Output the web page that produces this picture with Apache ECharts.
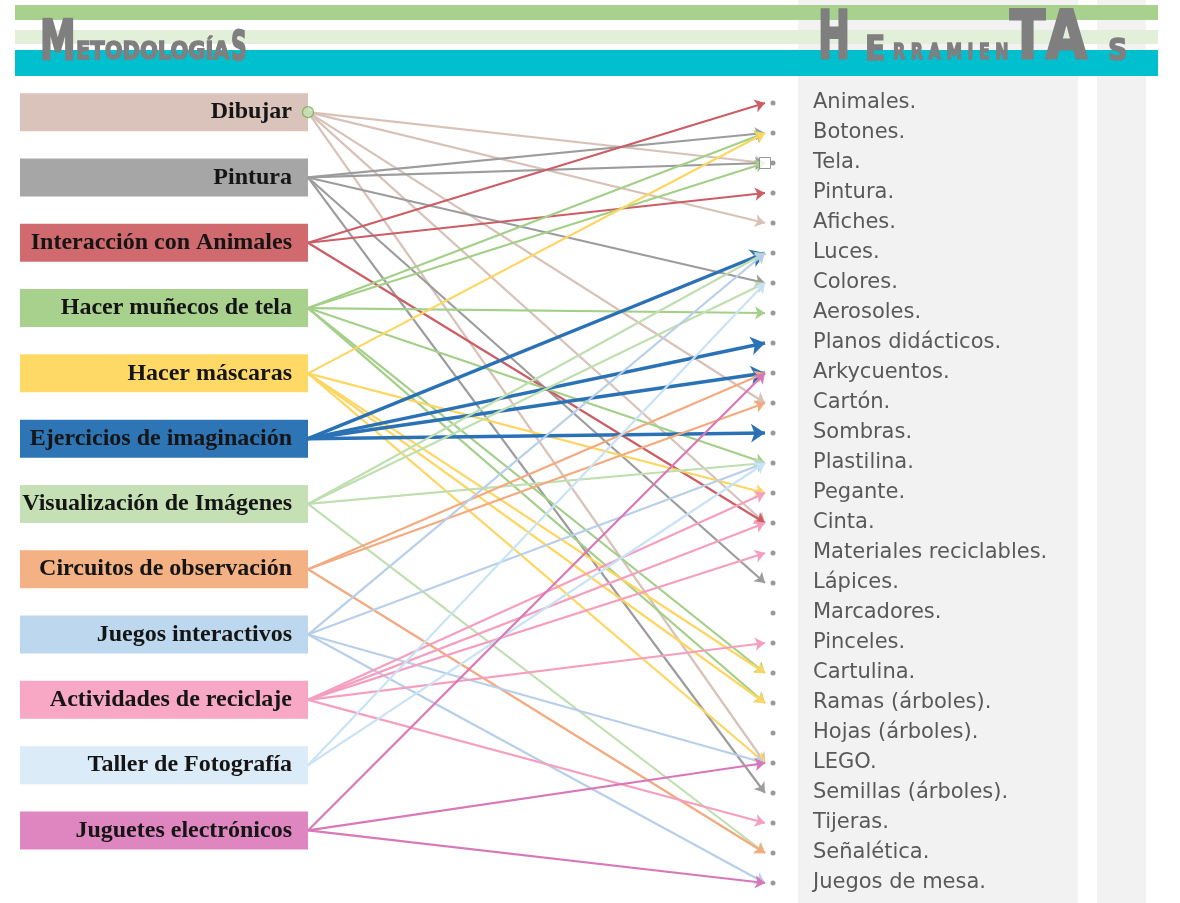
<!DOCTYPE html>
<html>
<head>
<meta charset="utf-8">
<script src="https://cdn.jsdelivr.net/npm/echarts@6/dist/echarts.min.js"></script>
<style>
  html, body { margin: 0; padding: 0; background: #fff; }
  #chart { width: 1180px; height: 903px; }
</style>
</head>
<body>
<div id="chart"></div>
<script>
// methodologies (left boxes)
const methods = [
  "Dibujar", "Pintura", "Interacción con Animales", "Hacer muñecos de tela",
  "Hacer máscaras", "Ejercicios de imaginación", "Visualización de Imágenes",
  "Circuitos de observación", "Juegos interactivos", "Actividades de reciclaje",
  "Taller de Fotografía", "Juguetes electrónicos"
];

// tools (right list)
const tools = [
  "Animales.", "Botones.", "Tela.", "Pintura.", "Afiches.", "Luces.", "Colores.",
  "Aerosoles.", "Planos didácticos.", "Arkycuentos.", "Cartón.", "Sombras.",
  "Plastilina.", "Pegante.", "Cinta.", "Materiales reciclables.", "Lápices.",
  "Marcadores.", "Pinceles.", "Cartulina.", "Ramas (árboles).", "Hojas (árboles).",
  "LEGO.", "Semillas (árboles).", "Tijeras.", "Señalética.", "Juegos de mesa."
];

// which tools each methodology points to
const fromDibujar = ["Tela.", "Afiches.", "Cartón.", "Cinta.", "LEGO."];
const fromPintura = ["Botones.", "Tela.", "Colores.", "Lápices.", "Semillas (árboles)."];
const fromInteraccion = ["Animales.", "Pintura.", "Cinta."];
const fromMunecos = ["Botones.", "Tela.", "Aerosoles.", "Plastilina.", "Cartulina.", "Ramas (árboles)."];
const fromMascaras = ["Botones.", "Pegante.", "Cartulina.", "Ramas (árboles).", "LEGO."];
const fromEjercicios = ["Luces.", "Planos didácticos.", "Arkycuentos.", "Sombras."];
const fromVisualizacion = ["Luces.", "Colores.", "Plastilina.", "Señalética."];
const fromCircuitos = ["Arkycuentos.", "Cartón.", "Señalética."];
const fromJuegos = ["Luces.", "Plastilina.", "LEGO.", "Juegos de mesa."];
const fromReciclaje = ["Pegante.", "Cinta.", "Materiales reciclables.", "Pinceles.", "Tijeras."];
const fromTaller = ["Colores.", "Plastilina."];
const fromJuguetes = ["Arkycuentos.", "LEGO.", "Juegos de mesa."];

const targets = [
  fromDibujar, fromPintura, fromInteraccion, fromMunecos, fromMascaras, fromEjercicios,
  fromVisualizacion, fromCircuitos, fromJuegos, fromReciclaje, fromTaller, fromJuguetes
];

const boxColors = [
  "#d9c3ba", "#a6a6a6", "#d06a6e", "#a9d18e", "#ffd966", "#2e75b6",
  "#c5e0b4", "#f4b183", "#bdd7ee", "#f8a8c4", "#dbecf8", "#df86c1"
];
const lineColors = [
  "#d8c2b8", "#9c9c9c", "#cc5d64", "#a3cf88", "#fdd661", "#2a72b5",
  "#c0dfb0", "#f2aa7e", "#b7cfe9", "#f59fbf", "#c9e3f6", "#d878b8"
];

// layout
const TOOL_TOP = 103, TOOL_STEP = 30;
const LINK_X0 = 308, DOT_X = 773, ARROW_X = 765;
const BOX_LEFT = 20, METH_TOP = 79.5, METH_STEP = 65.3;
const methRow = j => (METH_TOP + (j + 0.5) * METH_STEP - TOOL_TOP) / TOOL_STEP;
const endX = (ARROW_X - LINK_X0) / (DOT_X - LINK_X0);

const linkData = [];
targets.forEach((list, j) => {
  list.forEach(t => {
    const thick = methods[j] === "Ejercicios de imaginación";
    linkData.push({
      coords: [[0, methRow(j)], [endX, tools.indexOf(t)]],
      symbolSize: thick ? 14 : 10,
      lineStyle: { color: lineColors[j], width: thick ? 3.5 : 2.2, opacity: 1 }
    });
  });
});

// heading letters: heavy, horizontally squeezed
const GRAY = "#7f7f7f";
const headText = (x, bottom, text, size, sx) => ({
  type: "text", x: x, y: bottom + 0.18 * size, scaleX: sx, z: 10,
  style: {
    text: text, fill: GRAY, stroke: GRAY, lineWidth: Math.max(1.5, size / 22),
    font: "bold " + size + "px 'DejaVu Sans', sans-serif",
    textVerticalAlign: "bottom"
  }
});

const chart = echarts.init(document.getElementById("chart"));
chart.setOption({
  animation: false,
  backgroundColor: "#fff",
  graphic: [
    { type: "rect", shape: { x: 798, y: 0, width: 280, height: 903 }, style: { fill: "#f2f2f2" }, z: 0 },
    { type: "rect", shape: { x: 1097, y: 0, width: 49, height: 903 }, style: { fill: "#f2f2f2" }, z: 0 },
    { type: "rect", shape: { x: 15, y: 5, width: 1143, height: 15 }, style: { fill: "#a9d18e" }, z: 1 },
    { type: "rect", shape: { x: 15, y: 30, width: 1143, height: 14 }, style: { fill: "#e2efd9" }, z: 1 },
    { type: "rect", shape: { x: 15, y: 50, width: 1143, height: 26 }, style: { fill: "#00bfcf" }, z: 1 },
    headText(40, 62, "M", 55, 0.65),
    headText(76, 60, "ETODOLOGÍA", 25, 0.84),
    headText(231, 62, "S", 40, 0.55),
    headText(818, 62, "H", 66, 0.58),
    headText(865, 62, "E", 33, 0.9),
    headText(893, 60, "R R A M I E N", 22, 0.72),
    headText(1010, 62, "T", 66, 0.78),
    headText(1046, 62, "A", 66, 0.8),
    headText(1108, 62, "S", 30, 0.9)
  ],
  grid: [
    { left: LINK_X0, top: TOOL_TOP, width: DOT_X - LINK_X0, height: TOOL_STEP * (tools.length - 1), outerBoundsMode: "none" },
    { left: BOX_LEFT, top: METH_TOP, width: LINK_X0 - BOX_LEFT, height: METH_STEP * methods.length, outerBoundsMode: "none" }
  ],
  xAxis: [
    { gridIndex: 0, type: "value", min: 0, max: 1, show: false },
    { gridIndex: 1, type: "value", min: 0, max: 1, show: false }
  ],
  yAxis: [
    { gridIndex: 0, type: "value", min: 0, max: tools.length - 1, inverse: true, show: false },
    {
      gridIndex: 0, type: "category", data: tools, inverse: true, boundaryGap: false,
      position: "right",
      axisLine: { show: false }, axisTick: { show: false }, splitLine: { show: false },
      axisLabel: {
        margin: 40, align: "left", color: "#595959",
        fontFamily: "'DejaVu Sans', sans-serif", fontSize: 21
      }
    },
    { gridIndex: 1, type: "category", data: methods, inverse: true, show: false }
  ],
  series: [
    {
      type: "bar", xAxisIndex: 1, yAxisIndex: 2, barWidth: 38, silent: true,
      data: methods.map((m, j) => ({ value: 1, itemStyle: { color: boxColors[j] } })),
      label: {
        show: true, position: "insideRight", distance: 16, formatter: "{b}",
        color: "#151515", fontFamily: "'Liberation Serif', serif",
        fontWeight: "bold", fontSize: 24
      },
      z: 2
    },
    {
      type: "lines", coordinateSystem: "cartesian2d", xAxisIndex: 0, yAxisIndex: 0,
      symbol: ["none", "arrow"], symbolSize: 10, silent: true, clip: false,
      data: linkData, z: 3
    },
    {
      type: "scatter", xAxisIndex: 0, yAxisIndex: 0, symbolSize: 5, silent: true, clip: false,
      itemStyle: { color: GRAY },
      data: tools.map((t, i) => [1, i]), z: 4
    },
    {
      // selection handles seen on the original slide
      type: "scatter", xAxisIndex: 0, yAxisIndex: 0, silent: true, clip: false, z: 5,
      data: [
        { value: [0, methRow(0)], symbol: "circle", symbolSize: 11,
          itemStyle: { color: "#c5e0b4", borderColor: "#70ad47", borderWidth: 1.2 } },
        { value: [endX, tools.indexOf(fromDibujar[0])], symbol: "rect", symbolSize: 11,
          itemStyle: { color: "#fff", borderColor: "#7f7f7f", borderWidth: 1 } }
      ]
    }
  ]
});
</script>
</body>
</html>
